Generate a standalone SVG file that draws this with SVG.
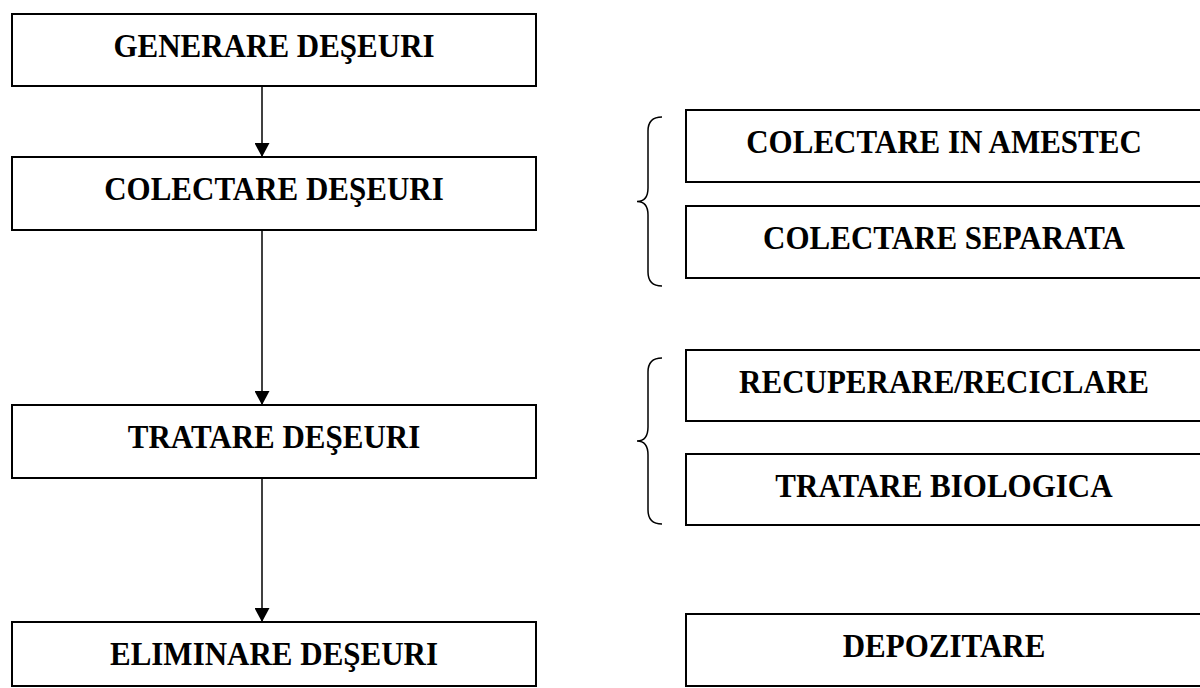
<svg xmlns="http://www.w3.org/2000/svg" width="1200" height="688" viewBox="0 0 1200 688">
<defs>
<style>
.box{fill:#fff;stroke:#000;stroke-width:2}
.lbl{font-family:"Liberation Serif","Times New Roman",serif;font-weight:bold;font-size:31px;fill:#000;text-anchor:middle}
.conn{stroke:#000;stroke-width:1.5;fill:none}
.brace{stroke:#000;stroke-width:1.5;fill:none}
</style>
<marker id="arr" viewBox="0 0 14 15" refX="14" refY="7.5" markerWidth="14" markerHeight="15" markerUnits="userSpaceOnUse" orient="auto">
<path d="M0,0 L14,7.5 L0,15 Z" fill="#000"/>
</marker>
</defs>
<rect width="1200" height="688" fill="#fff"/>
<g id="connectors">
<line class="conn" x1="262" y1="86" x2="262" y2="157" marker-end="url(#arr)"/>
<line class="conn" x1="262" y1="230" x2="262" y2="405" marker-end="url(#arr)"/>
<line class="conn" x1="262" y1="478" x2="262" y2="622" marker-end="url(#arr)"/>
</g>
<g id="braces">
<path class="brace" d="M662,117 Q648,117 648,131 L648,188 Q648,201.5 637,201.5 Q648,201.5 648,215 L648,272 Q648,286 662,286"/>
<path class="brace" d="M662,358 Q648,358 648,372 L648,427 Q648,441 637,441 Q648,441 648,455 L648,510 Q648,524 662,524"/>
</g>
<g id="generare">
<rect class="box" x="12" y="14" width="524" height="72"/>
<text class="lbl" transform="translate(274,56.5) scale(1,1.12)">GENERARE DEŞEURI</text>
</g>
<g id="colectare">
<rect class="box" x="12" y="157" width="524" height="73"/>
<text class="lbl" transform="translate(274,199.5) scale(1,1.12)">COLECTARE DEŞEURI</text>
</g>
<g id="tratare">
<rect class="box" x="12" y="405" width="524" height="73"/>
<text class="lbl" transform="translate(274,447.5) scale(1,1.12)">TRATARE DEŞEURI</text>
</g>
<g id="eliminare">
<rect class="box" x="12" y="622" width="524" height="64"/>
<text class="lbl" transform="translate(274,664.5) scale(1,1.12)">ELIMINARE DEŞEURI</text>
</g>
<g id="amestec">
<rect class="box" x="686" y="110" width="520" height="72"/>
<text class="lbl" transform="translate(944,152.5) scale(1,1.12)">COLECTARE IN AMESTEC</text>
</g>
<g id="separata">
<rect class="box" x="686" y="206" width="520" height="72"/>
<text class="lbl" transform="translate(944,248.5) scale(1,1.12)">COLECTARE SEPARATA</text>
</g>
<g id="recuperare">
<rect class="box" x="686" y="350" width="520" height="71"/>
<text class="lbl" transform="translate(944,392.5) scale(1,1.12)">RECUPERARE/RECICLARE</text>
</g>
<g id="biologica">
<rect class="box" x="686" y="454" width="520" height="71"/>
<text class="lbl" transform="translate(944,496.5) scale(1,1.12)">TRATARE BIOLOGICA</text>
</g>
<g id="depozitare">
<rect class="box" x="686" y="614" width="520" height="72"/>
<text class="lbl" transform="translate(944,656.5) scale(1,1.12)">DEPOZITARE</text>
</g>
</svg>
